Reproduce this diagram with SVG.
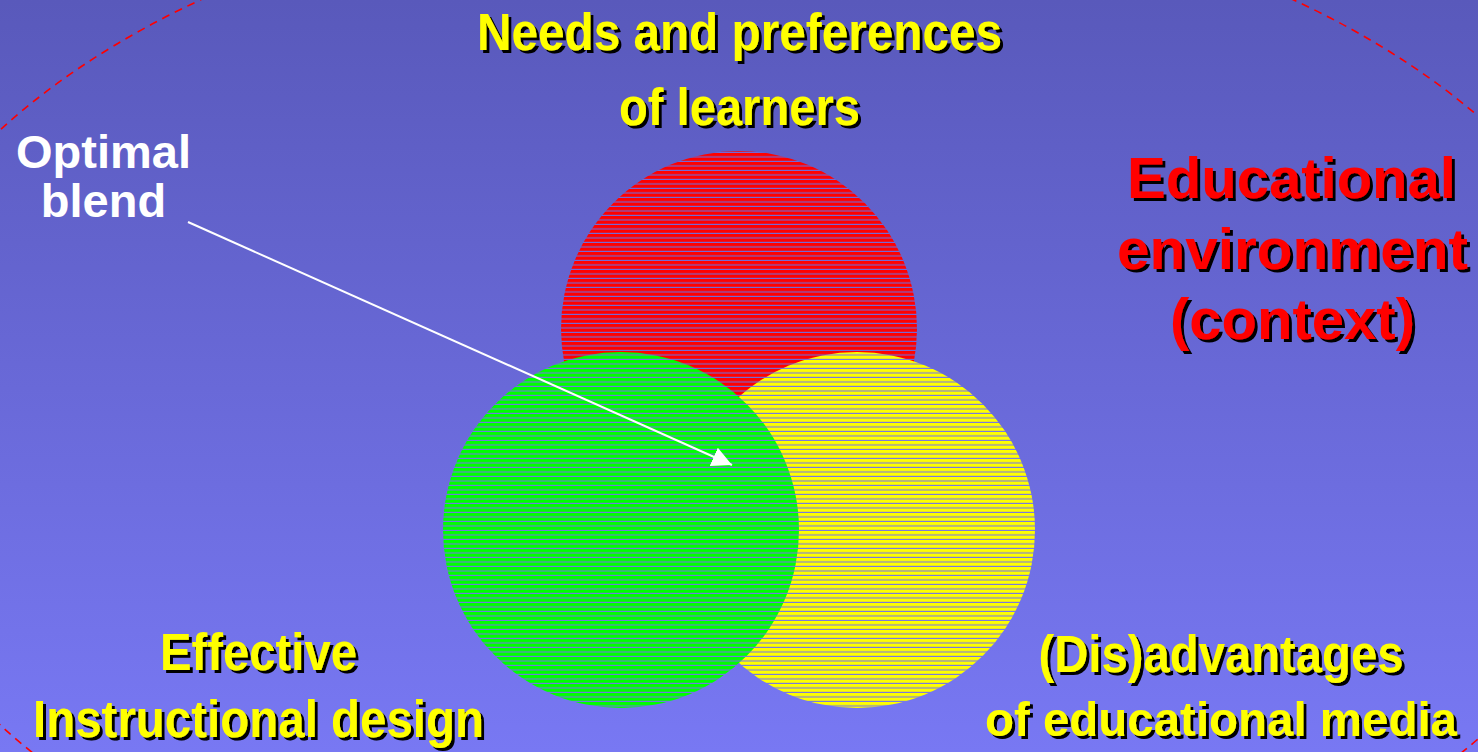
<svg xmlns="http://www.w3.org/2000/svg" width="1478" height="752" viewBox="0 0 1478 752">
  <defs>
    <linearGradient id="bg" x1="0" y1="0" x2="0" y2="1">
      <stop offset="0" stop-color="#5959bb"/>
      <stop offset="1" stop-color="#7878f3"/>
    </linearGradient>
    <pattern id="stripeRed" patternUnits="userSpaceOnUse" width="20" height="4.5">
      <rect width="20" height="4.5" fill="#ff0000"/>
      <rect y="3.4" width="20" height="1.1" fill="#6e6ee0"/>
    </pattern>
    <pattern id="stripeGreen" patternUnits="userSpaceOnUse" width="20" height="4.5">
      <rect width="20" height="4.5" fill="#00ff00"/>
      <rect y="3.4" width="20" height="1.1" fill="#7474ea"/>
    </pattern>
    <pattern id="stripeYellow" patternUnits="userSpaceOnUse" width="20" height="4.5">
      <rect width="20" height="4.5" fill="#ffff00"/>
      <rect y="3.4" width="20" height="1.1" fill="#7474ea"/>
    </pattern>
    <marker id="arrowHead" markerUnits="userSpaceOnUse" markerWidth="22" markerHeight="22" refX="20" refY="10" orient="auto">
      <path d="M0,0 L20,10 L0,20 Z" fill="#ffffff"/>
    </marker>
    <!-- hard black drop shadow for the coloured titles, region kept inside the canvas -->
    <filter id="dropShadow" filterUnits="userSpaceOnUse" x="0" y="0" width="1478" height="752">
      <feFlood flood-color="#000000"/>
      <feComposite in2="SourceAlpha" operator="in"/>
      <feOffset dx="3" dy="3" result="shade"/>
      <feMerge>
        <feMergeNode in="shade"/>
        <feMergeNode in="SourceGraphic"/>
      </feMerge>
    </filter>
  </defs>
  <style>
    .lbl { font-family: "Liberation Sans", Arial, sans-serif; font-weight: bold; text-anchor: middle; }
    .yellow { fill: #ffff00; font-size: 51px; filter: url(#dropShadow); }
    .red { fill: #ff0000; font-size: 58px; filter: url(#dropShadow); }
    .white { fill: #ffffff; font-size: 47px; }
  </style>

  <rect width="1478" height="752" fill="url(#bg)"/>

  <!-- dashed boundary of the surrounding environment -->
  <ellipse id="environment-boundary" cx="747" cy="427.5" rx="895" ry="540" fill="none" stroke="#ff0000" stroke-width="1.6" stroke-dasharray="8 6"/>

  <!-- three overlapping sets -->
  <g id="learners">
    <circle cx="739" cy="329" r="178" fill="url(#stripeRed)"/>
  </g>
  <g id="media">
    <circle cx="857" cy="530" r="178" fill="url(#stripeYellow)"/>
  </g>
  <g id="design">
    <circle cx="621" cy="530" r="178" fill="url(#stripeGreen)"/>
  </g>

  <g id="connectors">
    <line x1="188" y1="222" x2="732" y2="465" stroke="#ffffff" stroke-width="2" marker-end="url(#arrowHead)"/>
  </g>

  <g id="label-learners" class="lbl yellow">
    <text x="739.5" y="50" textLength="525" lengthAdjust="spacingAndGlyphs">Needs and preferences</text>
    <text x="739.5" y="125" textLength="241" lengthAdjust="spacingAndGlyphs">of learners</text>
  </g>

  <g id="label-optimal" class="lbl white">
    <text x="103.5" y="168">Optimal</text>
    <text x="103.5" y="217">blend</text>
  </g>

  <g id="label-environment" class="lbl red">
    <text x="1291.5" y="198" textLength="329" lengthAdjust="spacingAndGlyphs">Educational</text>
    <text x="1292.5" y="269" textLength="351" lengthAdjust="spacingAndGlyphs">environment</text>
    <text x="1292.5" y="339" textLength="245" lengthAdjust="spacingAndGlyphs">(context)</text>
  </g>

  <g id="label-design" class="lbl yellow">
    <text x="258.5" y="670" textLength="197" lengthAdjust="spacingAndGlyphs">Effective</text>
    <text x="258.5" y="737" textLength="451" lengthAdjust="spacingAndGlyphs">Instructional design</text>
  </g>

  <g id="label-media" class="lbl yellow">
    <text x="1221" y="672" textLength="365" lengthAdjust="spacingAndGlyphs">(Dis)advantages</text>
    <text x="1221" y="736" font-size="49" textLength="472" lengthAdjust="spacingAndGlyphs">of educational media</text>
  </g>
</svg>
